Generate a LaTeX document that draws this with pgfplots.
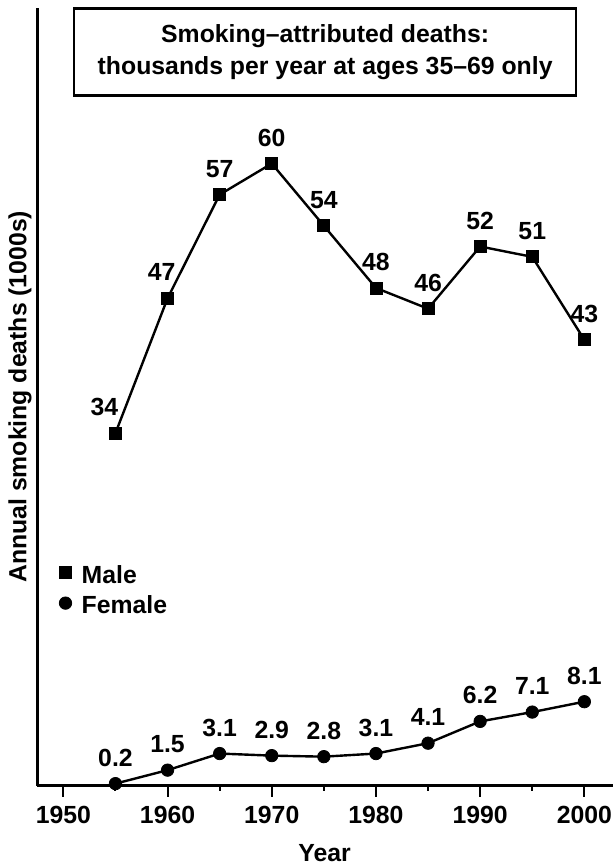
\documentclass[border=0pt]{standalone}
\usepackage{fontspec}
\setmainfont{Liberation Sans}
\usepackage{pgfplots}
\usepackage{pgfplotstable}
\pgfplotsset{compat=1.18}
\newcommand\f{\bfseries\fontsize{12.4}{14.8}\selectfont}

\pgfplotstableread{
x y lab xs
1955 34 34 -5.5
1960 47 47 -3
1965 57 57 0
1970 60 60 0
1975 54 54 0
1980 48 48 0
1985 46 46 0
1990 52 52 0
1995 51 51 0
2000 43 43 0
}\male
\pgfplotstableread{
x y lab xs
1955 0.2 0.2 0
1960 1.5 1.5 0
1965 3.1 3.1 0
1970 2.9 2.9 0
1975 2.8 2.8 0
1980 3.1 3.1 0
1985 4.1 4.1 0
1990 6.2 6.2 0
1995 7.1 7.1 0
2000 8.1 8.1 0
}\female

\pgfplotsset{
  lbl/.style={
    nodes near coords,
    point meta=explicit symbolic,
    visualization depends on={\thisrow{xs}\as\xs},
    every node near coord/.style={anchor=center, yshift=13pt, xshift=\xs pt, font=\f, inner sep=0pt, black},
  },
  dotlegend/.style={legend image code/.code={\draw[##1] plot coordinates {(0pt,1.6pt)};}},
}

\begin{document}
\begin{tikzpicture}
\begin{axis}[
  scale only axis,
  width=287.85pt, height=388.85pt,
  xmin=1947.5, xmax=2002.75,
  ymin=0, ymax=75,
  axis x line*=bottom, axis y line*=left,
  axis line style={-, line width=1.3pt, black},
  ytick=\empty,
  xtick={1950,1960,1970,1980,1990,2000},
  minor xtick={1955,1965,1975,1985,1995},
  tick align=outside,
  major tick length=5.5pt, minor tick length=2.5pt,
  every tick/.style={black, line width=1pt},
  /pgf/number format/assume math mode=true,
  /pgf/number format/1000 sep={},
  xticklabel style={font=\f, anchor=base, yshift=-13.15pt},
  every axis x label/.style={at={(axis description cs:0.499,-0.0977)}, anchor=base, font=\f},
  every axis y label/.style={at={(axis description cs:-0.0191,0.5)}, rotate=90, anchor=base, font=\f},
  xlabel={Year},
  ylabel={Annual smoking deaths (1000s)},
  clip=false,
  legend cell align=left,
  legend style={at={(axis description cs:0.0382,0.2832)}, anchor=north west,
    draw=none, fill=none, inner sep=0pt, outer sep=0pt,
    row sep=4.7pt, font=\f,
    nodes={inner sep=0pt},
    /tikz/every odd column/.append style={column sep=5pt}},
]
\addlegendimage{only marks, mark=square*, mark size=3pt, mark options={line width=0.4pt}, black, dotlegend}
\addlegendentry{Male}
\addlegendimage{only marks, mark=*, mark size=3.1pt, mark options={line width=0.4pt}, black, dotlegend}
\addlegendentry{Female}

\addplot[black, line width=1.2pt, mark=square*, mark size=3pt, mark options={line width=0.4pt}, forget plot, lbl]
  table[x=x, y=y, meta=lab] {\male};
\addplot[black, line width=1.2pt, mark=*, mark size=3.1pt, mark options={line width=0.4pt}, forget plot, lbl]
  table[x=x, y=y, meta=lab] {\female};

\node[draw, line width=1.1pt, minimum width=251pt, minimum height=43.5pt, align=center,
  font=\bfseries\fontsize{12.4}{16}\selectfont, inner sep=0pt]
  at (rel axis cs:0.5,0.9434) {Smoking–attributed deaths:\\thousands per year at ages 35–69 only};

\coordinate (bl) at (rel axis cs:0,0);
\coordinate (tr) at (rel axis cs:1,1);
\end{axis}
\pgfresetboundingbox
\path[use as bounding box] ([xshift=-18.65pt, yshift=-41.15pt]bl) rectangle ([yshift=4pt]tr);
\end{tikzpicture}
\end{document}
